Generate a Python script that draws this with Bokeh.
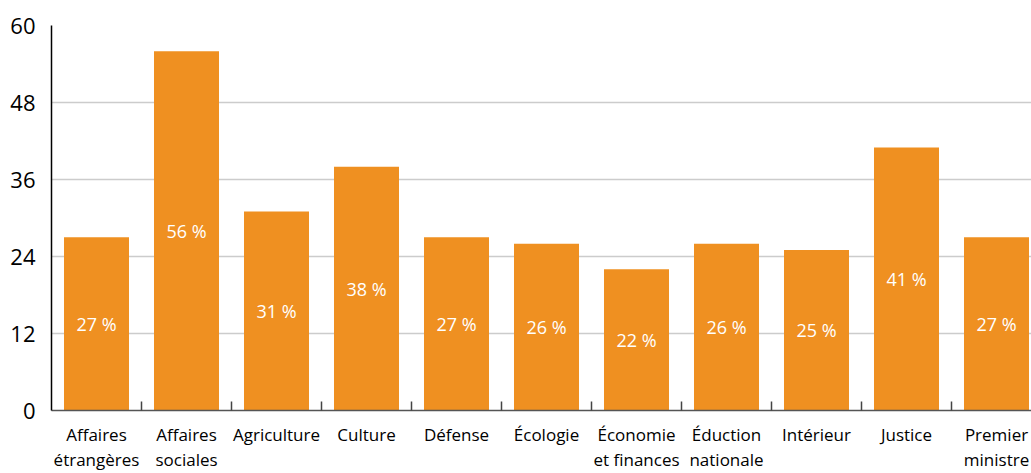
from bokeh.plotting import figure
from bokeh.models import Range1d, FixedTicker, ColumnDataSource, LabelSet
from bokeh.core.properties import value
from bokeh.embed import file_html
from bokeh.resources import INLINE

categories = ["Affaires\nétrangères", "Affaires\nsociales", "Agriculture", "Culture", "Défense",
              "Écologie", "Économie\net finances", "Éduction\nnationale", "Intérieur", "Justice",
              "Premier\nministre"]
values = [27, 56, 31, 38, 27, 26, 22, 26, 25, 41, 27]
y_ticks = [0, 12, 24, 36, 48, 60]

FONT = "Open Sans"
ORANGE = "#EF9021"

n = len(categories)
centers = [i + 0.5 for i in range(n)]
bounds = [i for i in range(1, n)]

src = ColumnDataSource(dict(
    x=centers,
    top=values,
    mid=[v / 2 for v in values],
    lab=[f"{v} %" for v in values],
))

p = figure(width=1031, height=473, output_backend="svg", toolbar_location=None,
           x_range=Range1d(0, 980 / 90), y_range=Range1d(0, 60),
           min_border_left=51, min_border_right=0, min_border_top=25, min_border_bottom=61)
p.outline_line_color = None
p.background_fill_color = "white"

p.vbar(x="x", top="top", bottom=0, width=65 / 90, source=src, color=ORANGE, line_color=None)

labels = LabelSet(x="x", y="mid", text="lab", source=src, text_align="center",
                  text_baseline="middle", text_color="white", text_font_size="18px",
                  text_font=value(FONT))
p.add_layout(labels)

# x axis
p.xaxis.ticker = FixedTicker(ticks=centers, minor_ticks=bounds)
p.xaxis.major_label_overrides = {c: lab for c, lab in zip(centers, categories)}
p.xaxis.major_tick_in = 0
p.xaxis.major_tick_out = 0
p.xaxis.minor_tick_in = 9
p.xaxis.minor_tick_out = 0
p.xaxis.minor_tick_line_color = "#444444"
p.xaxis.minor_tick_line_width = 1.5
p.xaxis.axis_line_color = "#555555"
p.xaxis.axis_line_width = 1.5
p.xaxis.major_label_text_font = FONT
p.xaxis.major_label_text_font_size = "17px"
p.xaxis.major_label_text_line_height = 1.1
p.xaxis.major_label_text_color = "black"
p.xaxis.major_label_standoff = 12

# y axis
p.yaxis.ticker = FixedTicker(ticks=y_ticks)
p.yaxis.major_tick_in = 0
p.yaxis.major_tick_out = 0
p.yaxis.minor_tick_line_color = None
p.yaxis.axis_line_color = "black"
p.yaxis.axis_line_width = 1.5
p.yaxis.major_label_text_font = FONT
p.yaxis.major_label_text_font_size = "22px"
p.yaxis.major_label_text_color = "black"
p.yaxis.major_label_standoff = 16

p.xgrid.grid_line_color = None
p.ygrid.grid_line_color = "#cccccc"
p.ygrid.grid_line_width = 1.5

open("out.html", "w").write(file_html(p, INLINE))
